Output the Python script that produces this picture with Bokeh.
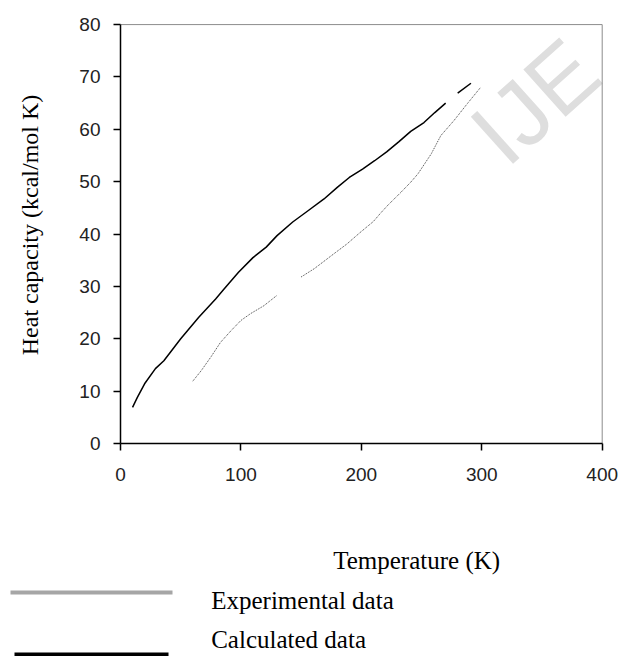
from bokeh.plotting import figure
from bokeh.models import Range1d, FixedTicker, Label
from bokeh.layouts import column
from bokeh.embed import file_html
from bokeh.resources import INLINE
from bokeh.core.properties import value

# ---- data ----
calc_temp_a = [10, 14, 20, 29, 36, 50, 65, 79, 86, 98, 110, 121, 130, 143, 156, 169,
               180, 190, 201, 211, 221, 231, 241, 252, 261, 270]
calc_cp_a = [6.9, 8.8, 11.4, 14.3, 15.8, 20.0, 24.1, 27.6, 29.5, 32.7, 35.5, 37.5, 39.7,
             42.3, 44.5, 46.7, 48.9, 50.8, 52.4, 54.0, 55.7, 57.6, 59.6, 61.3, 63.2, 65.0]
calc_temp_b = [280, 291]
calc_cp_b = [66.9, 68.8]

exp_temp_a = [60, 67, 75, 83, 92, 100, 108, 119, 130]
exp_cp_a = [11.9, 13.9, 16.5, 19.3, 21.6, 23.5, 24.8, 26.3, 28.3]
exp_temp_b = [150, 161, 177, 188, 199, 210, 216, 222, 233, 241, 247, 258, 266, 277, 288, 299]
exp_cp_b = [31.8, 33.4, 36.2, 38.1, 40.3, 42.4, 44.0, 45.5, 48.0, 49.9, 51.5, 55.3,
            58.8, 61.7, 64.9, 68.0]

x_ticks = [0, 100, 200, 300, 400]
y_ticks = [0, 10, 20, 30, 40, 50, 60, 70, 80]
x_title = "Temperature (K)"
y_title = "Heat  capacity (kcal/mol K)"
legend_labels = ["Experimental data", "Calculated data"]
watermark = "IJE"

SERIF = "Liberation Serif"
SANS = "Liberation Sans"

# ---- main chart ----
p = figure(width=620, height=488, output_backend="svg", toolbar_location=None,
           x_range=Range1d(0, 415.2), y_range=Range1d(0, 84.6),
           min_border_left=120, min_border_right=0, min_border_top=0, min_border_bottom=45)
p.frame_align = False
p.grid.visible = False
p.background_fill_color = "white"
p.border_fill_color = "white"
p.outline_line_color = None

p.xaxis.ticker = FixedTicker(ticks=x_ticks)
p.yaxis.ticker = FixedTicker(ticks=y_ticks)
p.xaxis.bounds = (x_ticks[0], x_ticks[-1])
p.yaxis.bounds = (y_ticks[0], y_ticks[-1])
for ax in (p.xaxis, p.yaxis):
    ax.axis_line_color = "black"
    ax.axis_line_width = 1.5
    ax.major_tick_line_color = "black"
    ax.major_tick_line_width = 1.5
    ax.major_tick_in = 0
    ax.major_tick_out = 7
    ax.minor_tick_line_color = None
    ax.major_label_text_font = SANS
    ax.major_label_text_font_size = "19px"
    ax.major_label_text_color = "#222222"
p.xaxis.major_label_standoff = 17
p.yaxis.major_label_standoff = 13

p.yaxis.axis_label = y_title
p.yaxis.axis_label_text_font = SERIF
p.yaxis.axis_label_text_font_size = "24px"
p.yaxis.axis_label_text_font_style = "normal"
p.yaxis.axis_label_text_color = "black"
p.yaxis.axis_label_standoff = 33

# faint watermark of the source page (top right)
wm = Label(x=303, y=56.9, text=watermark, angle=0.73, angle_units="rad",
           text_font=SANS, text_font_size="92px", text_color="#dedede",
           text_baseline="alphabetic", text_align="left", level="underlay")
p.add_layout(wm)

# top and right frame edges (light grey, as in the reference)
p.line([x_ticks[0], x_ticks[-1]], [y_ticks[-1], y_ticks[-1]], line_color="#8c8c8c", line_width=1)
p.line([x_ticks[-1], x_ticks[-1]], [y_ticks[0], y_ticks[-1]], line_color="#8c8c8c", line_width=1)

p.line(exp_temp_a, exp_cp_a, line_color="#444444", line_width=1, line_dash="1 1")
p.line(exp_temp_b, exp_cp_b, line_color="#444444", line_width=1, line_dash="1 1")
p.line(calc_temp_a, calc_cp_a, line_color="black", line_width=1.5)
p.line(calc_temp_b, calc_cp_b, line_color="black", line_width=1.5)

# ---- lower panel: x title and legend ----
p2 = figure(width=620, height=168, output_backend="svg", toolbar_location=None,
            x_range=Range1d(0, 620), y_range=Range1d(168, 0),
            x_axis_type=None, y_axis_type=None, min_border=0)
p2.frame_align = False
p2.grid.visible = False
p2.outline_line_color = None
p2.background_fill_color = "white"
p2.border_fill_color = "white"

p2.line(x=[10, 172], y=[104, 104], line_color="#a6a6a6", line_width=4)
p2.line(x=[14, 168], y=[166, 166], line_color="black", line_width=4)
p2.text(x=[332.7, 210.7, 210.7], y=[72, 112, 151],
        text=[x_title] + legend_labels,
        text_font=value(SERIF), text_font_size="25px", text_color="black",
        text_baseline="alphabetic", text_align="left")

layout = column(p, p2, spacing=0)
open("out.html", "w").write(file_html(layout, INLINE))
